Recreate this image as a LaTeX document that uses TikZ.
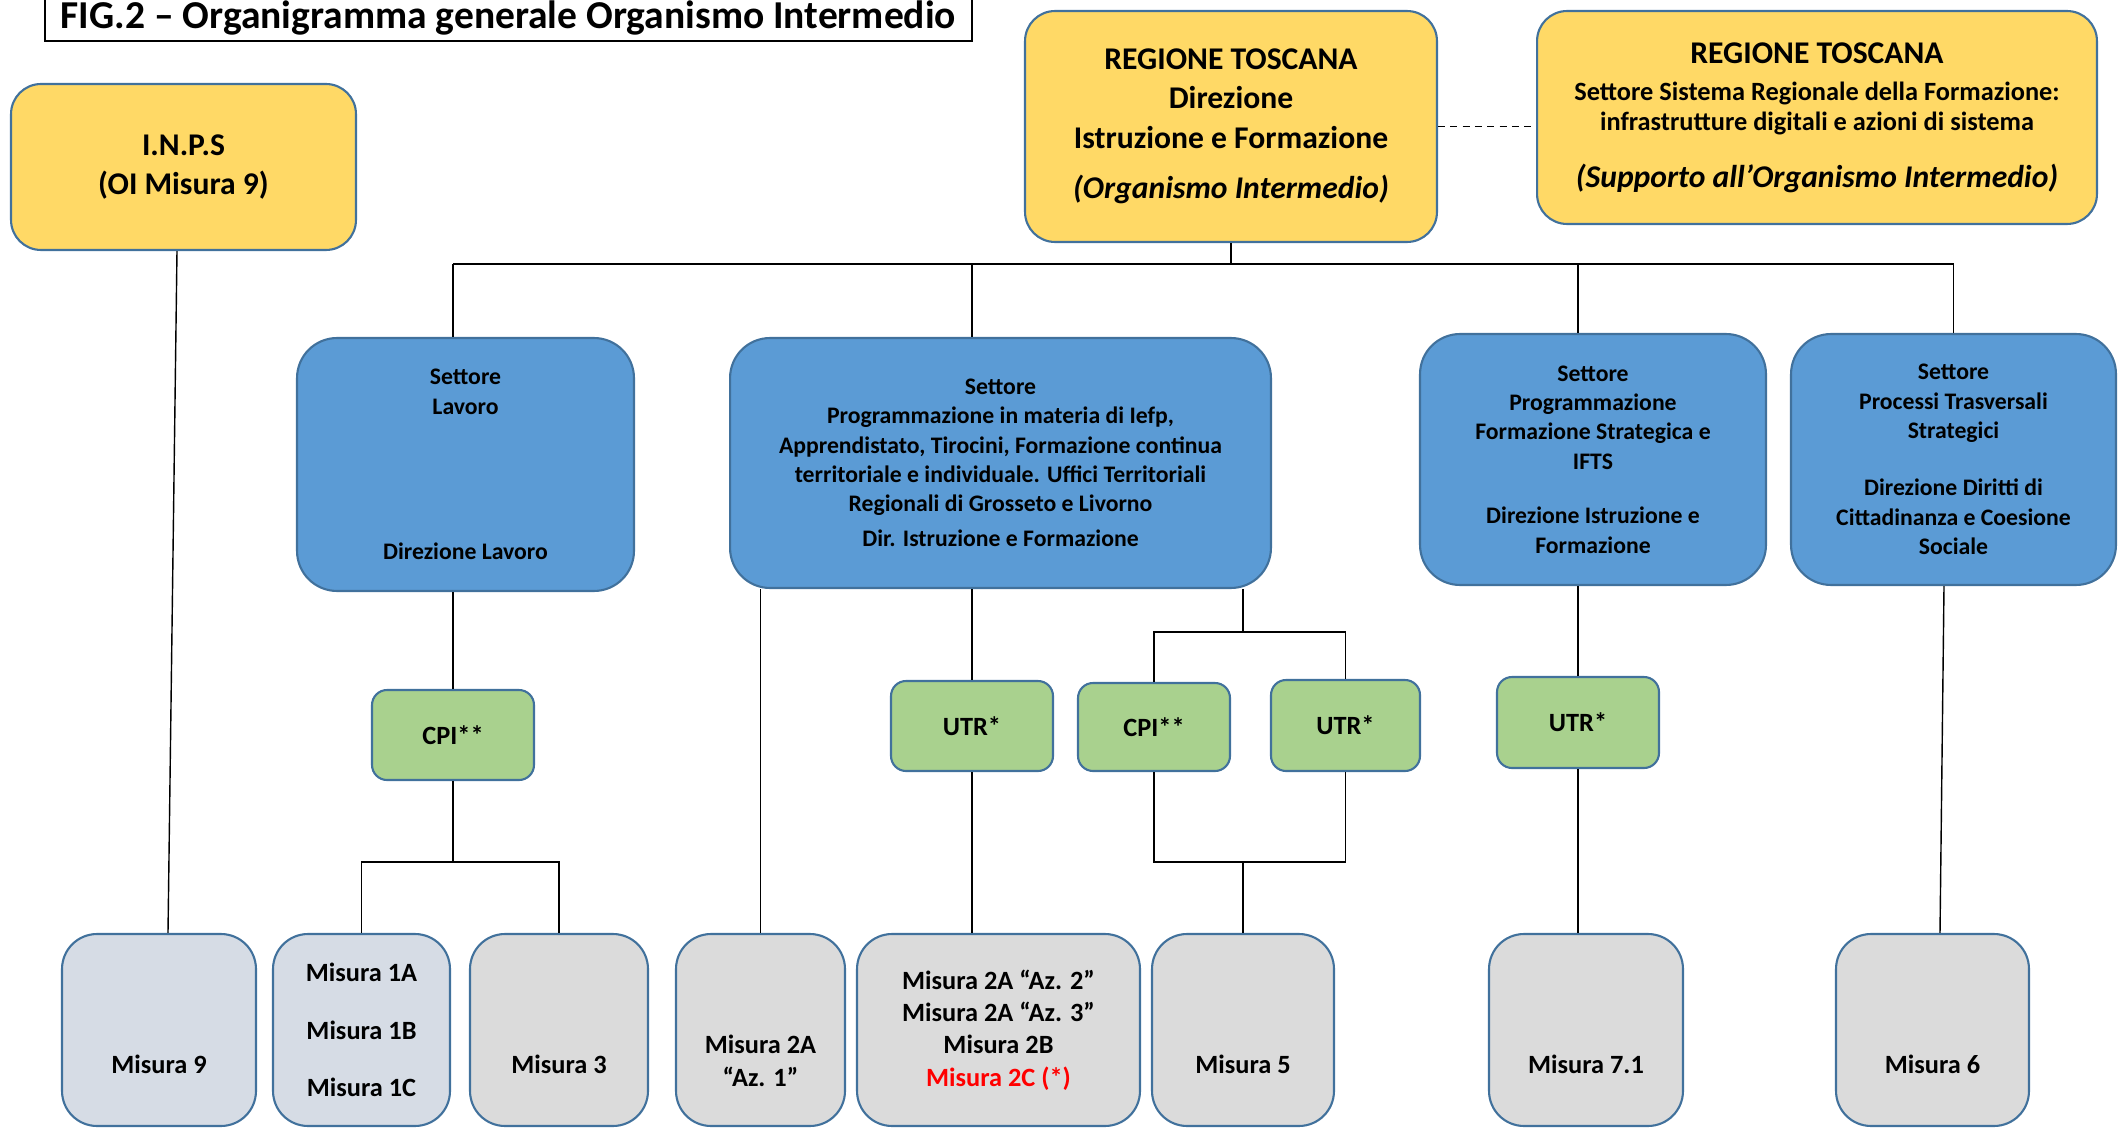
\documentclass[tikz,border=0pt]{standalone}
\usepackage{fontspec}
\setmainfont{Carlito}
\usetikzlibrary{positioning}

\definecolor{gold}{HTML}{FFD966}
\definecolor{sectblue}{HTML}{5B9BD5}
\definecolor{leafgreen}{HTML}{A9D18E}
\definecolor{leafgrey}{HTML}{DBDBDB}
\definecolor{leafslate}{HTML}{D6DCE5}
\definecolor{edge}{HTML}{41719C}

\begin{document}
\begin{tikzpicture}[x=0.02cm,y=-0.02cm,
    box/.style={draw=edge,line width=1.2pt,align=center,inner sep=2pt},
    orgbox/.style={box,fill=gold,rounded corners=0.6cm,font=\bfseries\fontsize{18}{22.4}\selectfont},
    sectbox/.style={box,fill=sectblue,rounded corners=0.8cm,font=\bfseries\fontsize{13.5}{16.7}\selectfont},
    officebox/.style={box,fill=leafgreen,rounded corners=0.3cm,font=\bfseries\fontsize{15}{18}\selectfont},
    misbox/.style={box,fill=leafgrey,rounded corners=0.7cm,minimum height=3.84cm,font=\bfseries\fontsize{15}{18.4}\selectfont},
    low/.style={text height=49pt,text depth=0pt},
    link/.style={line width=0.8pt}]
  \useasboundingbox (0,0) rectangle (2120,1128);

  \node[draw,line width=1.1pt,minimum width=18.54cm,minimum height=0.88cm,font=\bfseries\fontsize{22.5}{26}\selectfont] (title) at (508.5,18) {FIG.2 – Organigramma generale Organismo Intermedio};

  % vertici
  \node[orgbox,minimum width=6.9cm,minimum height=3.32cm] (inps) at (183.5,167) {I.N.P.S\\(OI Misura 9)};
  \node[orgbox,minimum width=8.24cm,minimum height=4.62cm] (rtdir) at (1231,126.5) {REGIONE TOSCANA\\Direzione\\Istruzione e Formazione\\[6.5pt]\textit{(Organismo Intermedio)}};
  \node[orgbox,minimum width=11.2cm,minimum height=4.26cm] (rtsupp) at (1817,117.5) {REGIONE TOSCANA\\[-1pt]\fontsize{15}{17}\selectfont Settore Sistema Regionale della Formazione:\\[-5.4pt]\fontsize{15}{17}\selectfont infrastrutture digitali e azioni di sistema\\[10pt]\fontsize{18}{22.4}\selectfont\itshape (Supporto all’Organismo Intermedio)};

  % settori
  \node[sectbox,minimum width=6.74cm,minimum height=5.06cm] (lavoro) at (465.5,464.5) {Settore\\Lavoro\\[66pt]Direzione Lavoro};
  \node[sectbox,minimum width=10.82cm,minimum height=5cm] (iefp) at (1000.5,463) {Settore\\Programmazione in materia di Iefp,\\Apprendistato, Tirocini, Formazione continua\\territoriale e individuale. Uffici Territoriali\\Regionali di Grosseto e Livorno\\[3.3pt]Dir. Istruzione e Formazione};
  \node[sectbox,minimum width=6.92cm,minimum height=5.02cm] (progfs) at (1593,459.5) {Settore\\Programmazione\\Formazione Strategica e\\IFTS\\[14.5pt]Direzione Istruzione e\\Formazione};
  \node[sectbox,minimum width=6.5cm,minimum height=5.02cm] (processi) at (1953.5,459.5) {Settore\\Processi Trasversali\\Strategici\\[16pt]Direzione Diritti di\\Cittadinanza e Coesione\\Sociale};

  % uffici
  \node[officebox,minimum width=3.24cm,minimum height=1.8cm] (cpiA) at (453,735) {CPI**};
  \node[officebox,minimum width=3.24cm,minimum height=1.8cm] (utrA) at (972,726) {UTR*};
  \node[officebox,minimum width=3.04cm,minimum height=1.76cm] (cpiB) at (1154,727) {CPI**};
  \node[officebox,minimum width=2.98cm,minimum height=1.82cm] (utrB) at (1345.5,725.5) {UTR*};
  \node[officebox,minimum width=3.24cm,minimum height=1.82cm] (utrC) at (1578,722.5) {UTR*};

  % misure
  \node[misbox,fill=leafslate,minimum width=3.88cm,low] (m9) at (159,1030) {Misura 9};
  \node[misbox,fill=leafslate,minimum width=3.54cm] (m1) at (361.5,1030) {Misura 1A\\[14.5pt]Misura 1B\\[14.5pt]Misura 1C};
  \node[misbox,minimum width=3.56cm,low] (m3) at (559,1030) {Misura 3};
  \node[misbox,minimum width=3.38cm,text height=64pt,text depth=0pt] (m2a) at (760.5,1030) {Misura 2A\\“Az. 1”};
  \node[misbox,minimum width=5.66cm] (m2b) at (998.5,1030) {Misura 2A “Az. 2”\\Misura 2A “Az. 3”\\Misura 2B\\\textcolor{red}{Misura 2C (*)}};
  \node[misbox,minimum width=3.64cm,low] (m5) at (1243,1030) {Misura 5};
  \node[misbox,minimum width=3.88cm,low] (m71) at (1586,1030) {Misura 7.1};
  \node[misbox,minimum width=3.86cm,low] (m6) at (1932.5,1030) {Misura 6};

  \coordinate (bus) at (0,264);
  \coordinate (split) at (0,632);
  \coordinate (fork) at (0,862);

  \draw[link,dash pattern=on 4pt off 3pt] (rtdir.east) -- (rtdir.east -| rtsupp.west);
  \draw[link] ([xshift=-0.13cm]inps.south) -- ([xshift=0.18cm]m9.north);
  \draw[line width=1.2pt] (cpiA |- bus) -- (processi |- bus);
  \draw[link] (rtdir.south) -- (rtdir.south |- bus);
  \draw[link] (cpiA |- bus) -- (cpiA |- lavoro.north);
  \draw[link] (utrA |- bus) -- (utrA |- iefp.north);
  \draw[link] (utrC |- bus) -- (utrC |- progfs.north);
  \draw[link] (processi |- bus) -- (processi.north);

  \draw[link] (cpiA |- lavoro.south) -- (cpiA.north);
  \draw[link] (cpiA.south) -- (cpiA |- fork);
  \draw[link] (m1.north) -- (m1 |- fork) -- (m3 |- fork) -- (m3.north);
  \draw[link] (m2a |- iefp.south) -- (m2a.north);
  \draw[link] (utrA |- iefp.south) -- (utrA.north);
  \draw[link] (utrA.south) -- (utrA |- m2b.north);
  \draw[link] (m5 |- iefp.south) -- (m5 |- split);
  \draw[link] (cpiB.north) -- (cpiB |- split) -- (utrB |- split) -- (utrB.north);
  \draw[link] (cpiB.south) -- (cpiB |- fork) -- (utrB |- fork) -- (utrB.south);
  \draw[link] (m5 |- fork) -- (m5.north);
  \draw[link] (utrC |- progfs.south) -- (utrC.north);
  \draw[link] (utrC.south) -- (utrC |- m71.north);
  \draw[link] ([xshift=-0.19cm]processi.south) -- ([xshift=0.15cm]m6.north);
\end{tikzpicture}
\end{document}
